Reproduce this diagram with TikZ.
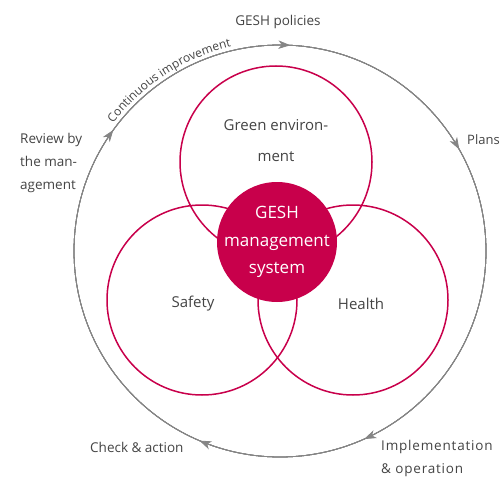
\documentclass[tikz,border=0pt]{standalone}
\usepackage{fontspec}
\setmainfont{Open Sans}
\usetikzlibrary{arrows.meta,decorations.markings,decorations.text}
\definecolor{gred}{HTML}{C8004B}
\definecolor{gtext}{HTML}{444444}
\definecolor{gline}{HTML}{858585}
\begin{document}
\begin{tikzpicture}
  [x=1pt,y=1pt,
   ring/.style={circle,draw=gred,line width=1.5pt,inner sep=0pt,minimum size=#1},
   lbl/.style={text=gtext,font=\fontsize{13.5}{23}\selectfont,align=left,inner sep=0pt},
   area/.style={text=gtext,font=\fontsize{15}{31}\selectfont,align=center,inner sep=0pt},
   tip/.style={postaction={decorate},decoration={markings,
     mark=at position #1 with {\arrow{Stealth[length=12pt,width=8.5pt,inset=3.5pt]}}}},
   cycle/.style={draw=gline,line width=0.8pt}]
  \useasboundingbox (0,0) rectangle (500,480);

  \coordinate (c) at (280,229);
  \foreach \pos in {0.008,0.168,0.433,0.564,0.85}
    \draw[cycle,tip=\pos] (c) ++(90:206) arc[start angle=90,end angle=-270,radius=206];
  \path[decorate,decoration={text along path,text align=center,
      text={|\fontsize{12}{14}\selectfont\color{gtext}|Continuous improvement}}]
    (c) ++(146:210) arc[start angle=146,end angle=100,radius=210];

  \node[ring=192pt] (green)  at (276,318) {};
  \node[ring=190pt] (safety) at (202,180) {};
  \node[ring=190pt] (health) at (353,180) {};
  \node[circle,fill=gred,minimum size=120pt,inner sep=0pt] (gesh) at (277,238) {};
  \node[text=white,align=center,inner sep=0pt,font=\fontsize{17}{27.5}\selectfont]
    (geshtxt) at (gesh) {GESH\\management\\system};

  \node[area] (greentxt)  at (276,339) {Green environ-\\ment};
  \node[area] (safetytxt) at (193,176) {Safety};
  \node[area] (healthtxt) at (361,176) {Health};

  \node[lbl] (policies) at (278,458) {GESH policies};
  \node[lbl,anchor=west,font=\fontsize{13}{23}\selectfont] (plans) at (467,340) {Plans};
  \node[lbl,anchor=west,font=\fontsize{13.5}{23}\selectfont\addfontfeature{LetterSpace=6}]
    (impl) at (381,21.5) {Implementation\\\& operation};
  \node[lbl,anchor=west] (check) at (90,33) {Check \& action};
  \node[lbl,anchor=west] (review) at (20,317) {Review by\\the man-\\agement};
\end{tikzpicture}
\end{document}
